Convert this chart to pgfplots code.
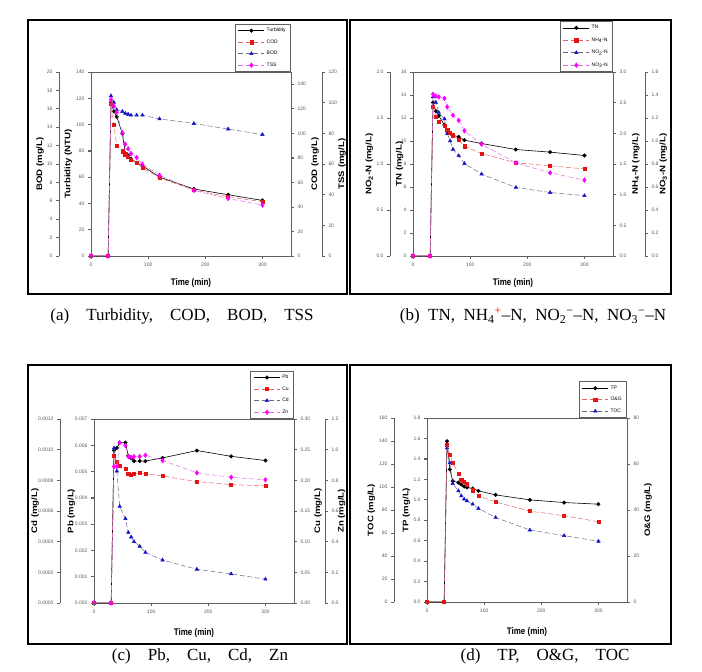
\documentclass[border=0pt]{standalone}
\usepackage{pgfplots}
\pgfplotsset{compat=1.18}
\usepackage{fontspec}
\setmainfont{Liberation Serif}
\setsansfont{Liberation Sans}
\newcommand\tickfont{\sffamily\fontsize{5}{6}\selectfont}
\newcommand\labfont{\sffamily\bfseries\fontsize{8}{9}\selectfont}
\newcommand\legfont{\sffamily\fontsize{5}{6}\selectfont}
\newcommand\capfont{\fontsize{17}{20}\selectfont}
\newcommand\capsp{\hspace{1em}}
\definecolor{lineRed}{RGB}{230,100,100}
\definecolor{markRed}{RGB}{228,20,20}
\definecolor{lineBlue}{RGB}{105,105,140}
\definecolor{markBlue}{RGB}{20,20,200}
\definecolor{lineMag}{RGB}{225,110,225}
\definecolor{markMag}{RGB}{255,0,255}
\definecolor{axgray}{RGB}{95,95,95}
% axis decorations: #1 x, #2 y0, #3 step, #4 n intervals, #5 direction (+1/-1)
\newcommand\myvticks[5]{\foreach \i in {0,...,#4}{\draw[axgray, line width=0.8pt] (#1pt,{#2pt+\i*#3pt}) -- ++({#5*3pt},0pt);}}
\newcommand\myaxline[3]{\draw[axgray, line width=0.8pt] (#1pt,#2pt) -- (#1pt,{#2pt+#3pt});}
\newcommand\myhticks[2]{\foreach \i in {0,...,3}{\draw[axgray, line width=0.8pt] ({#1pt+\i*57.143pt},#2pt) -- ++(0pt,-3pt);}}
\pgfplotsset{
 panel/.style={scale only axis, width=200pt, height=184pt, xmin=0, xmax=350, ymin=0,
   clip=false, scaled ticks=false, /pgf/number format/assume math mode=true,
   axis line style={draw=axgray, line width=0.7pt},
   tick style={draw=axgray, line width=0.7pt}, major tick length=3pt,
   ticklabel style={font=\tickfont, text=black!65},
   every axis y label/.style={rotate=90, anchor=center, font=\labfont, xscale=1.2},
   every axis x label/.style={anchor=center, font=\labfont, yscale=1.2},
   legend cell align=left,
   legend image code/.code={\draw[##1] (0pt,0pt) -- (26pt,0pt); \draw[##1] plot coordinates {(13pt,0pt)};},
   legend style={at={(1,1)}, anchor=south east, draw=axgray, line width=0.6pt, fill=white,
     font=\legfont, inner xsep=3pt, inner ysep=2pt, row sep=2.5pt}},
 mainax/.style={panel, xtick={0,100,200,300}, xtick pos=bottom, ytick pos=left, tick align=outside,
   xlabel={Time (min)}},
 outL/.style={panel, width=1pt, xmin=0, xmax=1, axis x line=none, xtick=\empty,
   axis y line*=left, tick align=outside, y axis line style={-}},
 outR/.style={panel, width=1pt, xmin=0, xmax=1, axis x line=none, xtick=\empty,
   axis y line*=right, tick align=outside, y axis line style={-}},
 rightin/.style={panel, axis x line=none, xtick=\empty, axis y line*=right, tick align=outside, y axis line style={-}},
 dat/.style={panel, hide axis},
 ser1/.style={black, solid, line width=0.6pt, mark=*, mark size=1.7pt, mark options={solid, fill=black}},
 ser2/.style={lineRed, dash pattern=on 5pt off 2.5pt, line width=0.5pt, mark=square*, mark size=1.6pt, mark options={solid, draw=markRed, fill=markRed}},
 ser3/.style={lineBlue, dash pattern=on 5pt off 2.5pt, line width=0.5pt, mark=triangle*, mark size=2pt, mark options={solid, draw=markBlue, fill=markBlue}},
 ser4/.style={lineMag, dash pattern=on 5pt off 2.5pt, line width=0.5pt, mark=diamond*, mark size=2.3pt, mark options={solid, draw=markMag, fill=markMag}},
 fmt/.style={yticklabel style={/pgf/number format/.cd, fixed, fixed zerofill, precision=#1}},
}
\begin{document}
\begin{tikzpicture}
\useasboundingbox (0pt,0pt) rectangle (702pt,672pt);
% panel frames
\draw[black, line width=1.1pt] (28pt,378pt) rectangle (347pt,652pt);
\draw[black, line width=1.1pt] (350pt,378pt) rectangle (671pt,652pt);
\draw[black, line width=1.1pt] (28pt,28pt) rectangle (347pt,307pt);
\draw[black, line width=1.1pt] (350pt,28pt) rectangle (671pt,307pt);

%%%%%%%%%%%%%%%% Panel (a)
\begin{axis}[mainax, at={(91pt,416pt)}, ymax=140, ytick={0,20,...,140},
  ylabel={Turbidity (NTU)}, ylabel style={at={(axis description cs:-0.114,0.5)}},
  xlabel style={at={(axis description cs:0.5,-0.147)}}]
\addplot[ser1] coordinates {(0,0)(30,0)(35,117)(40,110)(45,106)(55,93)(60,78)(65,76.5)(70,74)(80,71)(90,68.6)(120,60)(180,51)(240,46.6)(300,42.3)};
\addlegendentry{Turbidity}
\addlegendimage{ser2}\addlegendentry{COD}
\addlegendimage{ser3}\addlegendentry{BOD}
\addlegendimage{ser4}\addlegendentry{TSS}
\end{axis}
\begin{axis}[outL, at={(59pt,416pt)}, ymax=20, ytick={0,2,...,20},
  ylabel={BOD (mg/L)}, ylabel style={at={(axis description cs:-19,0.5)}}]
\end{axis}
\begin{axis}[dat, at={(91pt,416pt)}, ymax=20]
\addplot[ser3] coordinates {(0,0)(30,0)(35,17.4)(40,16.7)(45,15.9)(55,15.7)(60,15.5)(65,15.4)(70,15.3)(80,15.3)(90,15.3)(120,14.9)(180,14.4)(240,13.8)(300,13.2)};
\end{axis}
\begin{axis}[rightin, at={(91pt,416pt)}, ymax=150, ytick={0,20,...,140},
  ylabel={COD (mg/L)}, ylabel style={at={(axis description cs:1.12,0.5)}}]
\addplot[ser2] coordinates {(0,0)(30,0)(35,124)(40,107)(45,90)(55,85.4)(60,83)(65,80.8)(70,78.7)(80,76)(90,72)(120,63.7)(180,53.7)(240,48.3)(300,44.2)};
\end{axis}
\begin{axis}[outR, at={(321pt,416pt)}, ymax=120, ytick={0,20,...,120},
  ylabel={TSS (mg/L)}, ylabel style={at={(axis description cs:21,0.5)}}]
\end{axis}
\begin{axis}[dat, at={(91pt,416pt)}, ymax=120]
\addplot[ser4] coordinates {(0,0)(30,0)(35,102)(40,97.7)(45,93.7)(55,80.3)(60,72.9)(65,69.9)(70,66.8)(80,64.2)(90,59.9)(120,52.7)(180,42.8)(240,37.5)(300,33.2)};
\end{axis}

%%%%%%%%%%%%%%%% Panel (b)
\begin{axis}[mainax, at={(413pt,416pt)}, ymax=16, ytick={0,2,...,16},
  ylabel={TN (mg/L)}, ylabel style={at={(axis description cs:-0.067,0.5)}},
  xlabel style={at={(axis description cs:0.5,-0.147)}}, legend style={row sep=3.5pt}]
\addplot[ser1] coordinates {(0,0)(30,0)(35,13.34)(40,12.6)(45,12.2)(55,11.4)(60,10.8)(65,10.65)(70,10.5)(80,10.36)(90,10.07)(120,9.78)(180,9.26)(240,9.03)(300,8.74)};
\addlegendentry{TN}
\addlegendimage{ser2}\addlegendentry{NH\textsubscript{4}-N}
\addlegendimage{ser3}\addlegendentry{NO\textsubscript{2}-N}
\addlegendimage{ser4}\addlegendentry{NO\textsubscript{3}-N}
\end{axis}
\begin{axis}[outL, at={(390pt,416pt)}, ymax=2, ytick={0,0.5,1,1.5,2}, fmt=1,
  ylabel={NO\textsubscript{2}-N (mg/L)}, ylabel style={at={(axis description cs:-20.7,0.5)}}]
\end{axis}
\begin{axis}[dat, at={(413pt,416pt)}, ymax=2]
\addplot[ser3] coordinates {(0,0)(30,0)(35,1.73)(40,1.67)(45,1.56)(55,1.49)(60,1.33)(65,1.25)(70,1.16)(80,1.09)(90,1.005)(120,0.89)(180,0.745)(240,0.69)(300,0.655)};
\end{axis}
\begin{axis}[rightin, at={(413pt,416pt)}, ymax=3, ytick={0,0.5,1,1.5,2,2.5,3}, fmt=1,
  ylabel={NH\textsubscript{4}-N (mg/L)}, ylabel style={at={(axis description cs:1.114,0.5)}}]
\addplot[ser2] coordinates {(0,0)(30,0)(35,2.43)(40,2.27)(45,2.19)(55,2.13)(60,2.06)(65,2.01)(70,1.97)(80,1.89)(90,1.79)(120,1.67)(180,1.52)(240,1.47)(300,1.42)};
\end{axis}
\begin{axis}[outR, at={(644pt,416pt)}, ymax=1.6, ytick={0,0.2,0.4,0.6,0.8,1,1.2,1.4,1.6}, fmt=1,
  ylabel={NO\textsubscript{3}-N (mg/L)}, ylabel style={at={(axis description cs:19.3,0.5)}}]
\end{axis}
\begin{axis}[dat, at={(413pt,416pt)}, ymax=1.6]
\addplot[ser4] coordinates {(0,0)(30,0)(35,1.406)(40,1.39)(45,1.383)(55,1.37)(60,1.296)(70,1.224)(80,1.18)(90,1.088)(120,0.972)(180,0.81)(240,0.723)(300,0.66)};
\end{axis}

%%%%%%%%%%%%%%%% Panel (c)
\begin{axis}[mainax, at={(94pt,69pt)}, ymax=0.007, ytick={0,0.001,0.002,0.003,0.004,0.005,0.006,0.007}, fmt=3,
  ylabel={Pb (mg/L)}, ylabel style={at={(axis description cs:-0.113,0.5)}},
  xlabel style={at={(axis description cs:0.5,-0.165)}}]
\addplot[ser1] coordinates {(0,0)(30,0)(35,0.0058)(40,0.0059)(45,0.0061)(55,0.0061)(60,0.0056)(65,0.0055)(70,0.0054)(80,0.0054)(90,0.0054)(120,0.00552)(180,0.0058)(240,0.00558)(300,0.00542)};
\addlegendentry{Pb}
\addlegendimage{ser2}\addlegendentry{Cu}
\addlegendimage{ser3}\addlegendentry{Cd}
\addlegendimage{ser4}\addlegendentry{Zn}
\end{axis}
\begin{axis}[outL, at={(60pt,69pt)}, ymax=0.0012, ytick={0,0.0002,0.0004,0.0006,0.0008,0.0010,0.0012}, fmt=4,
  ylabel={Cd (mg/L)}, ylabel style={at={(axis description cs:-25,0.5)}}]
\end{axis}
\begin{axis}[dat, at={(94pt,69pt)}, ymax=0.0012]
\addplot[ser3] coordinates {(0,0)(30,0)(35,0.00101)(40,0.00086)(45,0.00063)(55,0.00055)(60,0.00046)(65,0.00043)(70,0.0004)(80,0.00037)(90,0.00033)(120,0.00028)(180,0.00022)(240,0.00019)(300,0.000155)};
\end{axis}
\begin{axis}[rightin, at={(94pt,69pt)}, ymax=0.3, ytick={0,0.05,0.1,0.15,0.2,0.25,0.3}, fmt=2,
  ylabel={Cu (mg/L)}, ylabel style={at={(axis description cs:1.12,0.5)}}]
\addplot[ser2] coordinates {(0,0)(30,0)(35,0.240)(40,0.230)(45,0.224)(55,0.219)(60,0.211)(65,0.209)(70,0.211)(80,0.212)(90,0.211)(120,0.207)(180,0.198)(240,0.193)(300,0.191)};
\end{axis}
\begin{axis}[outR, at={(324pt,69pt)}, ymax=1.2, ytick={0,0.2,0.4,0.6,0.8,1,1.2}, fmt=1,
  ylabel={Zn (mg/L)}, ylabel style={at={(axis description cs:17.7,0.5)}}]
\end{axis}
\begin{axis}[dat, at={(94pt,69pt)}, ymax=1.2]
\addplot[ser4] coordinates {(0,0)(30,0)(35,0.89)(40,0.89)(45,1.045)(55,1.026)(60,0.955)(65,0.95)(70,0.955)(80,0.955)(90,0.964)(120,0.929)(180,0.849)(240,0.82)(300,0.803)};
\end{axis}

%%%%%%%%%%%%%%%% Panel (d)
\begin{axis}[mainax, at={(427pt,70pt)}, ymax=1.8, ytick={0,0.2,0.4,0.6,0.8,1,1.2,1.4,1.6,1.8}, fmt=1,
  ylabel={TP (mg/L)}, ylabel style={at={(axis description cs:-0.103,0.5)}},
  xlabel style={at={(axis description cs:0.5,-0.165)}}]
\addplot[ser1] coordinates {(0,0)(30,0)(35,1.573)(40,1.297)(45,1.184)(55,1.168)(60,1.15)(65,1.13)(70,1.12)(80,1.11)(90,1.087)(120,1.048)(180,0.999)(240,0.973)(300,0.957)};
\addlegendentry{TP}
\addlegendimage{ser2}\addlegendentry{O\&G}
\addlegendimage{ser3}\addlegendentry{TOC}
\end{axis}
\begin{axis}[outL, at={(394pt,70pt)}, ymax=160, ytick={0,20,...,160},
  ylabel={TOC (mg/L)}, ylabel style={at={(axis description cs:-22.6,0.5)}}]
\end{axis}
\begin{axis}[dat, at={(427pt,70pt)}, ymax=160]
\addplot[ser3] coordinates {(0,0)(30,0)(35,134)(40,121)(45,103)(55,96.6)(60,92.2)(65,89.4)(70,87.9)(80,85)(90,81.3)(120,73.5)(180,62.6)(240,57.7)(300,52.8)};
\end{axis}
\begin{axis}[rightin, at={(427pt,70pt)}, ymax=80, ytick={0,20,...,80},
  ylabel={O\&G (mg/L)}, ylabel style={at={(axis description cs:1.105,0.5)}}]
\addplot[ser2] coordinates {(0,0)(30,0)(35,68.2)(40,64.1)(45,60.5)(55,55.8)(60,53.3)(65,52.3)(70,51.2)(80,48.6)(90,46.1)(120,43.5)(180,39.5)(240,37.5)(300,34.9)};
\end{axis}

% axis lines and tick marks of the offset axes (decoration only)
% panel a
\myaxline{59}{416}{184}\myvticks{59}{416}{18.4}{10}{-1}
\myvticks{91}{416}{26.286}{7}{-1}\myvticks{291}{416}{24.533}{7}{1}
\myaxline{322}{416}{184}\myvticks{322}{416}{30.667}{6}{1}
\myhticks{91}{416}
% panel b
\myaxline{390}{416}{184}\myvticks{390}{416}{46}{4}{-1}
\myvticks{413}{416}{23}{8}{-1}\myvticks{613}{416}{30.667}{6}{1}
\myaxline{645}{416}{184}\myvticks{645}{416}{23}{8}{1}
\myhticks{413}{416}
% panel c
\myaxline{60}{69}{184}\myvticks{60}{69}{30.667}{6}{-1}
\myvticks{94}{69}{26.286}{7}{-1}\myvticks{294}{69}{30.667}{6}{1}
\myaxline{325}{69}{184}\myvticks{325}{69}{30.667}{6}{1}
\myhticks{94}{69}
% panel d
\myaxline{394}{70}{184}\myvticks{394}{70}{23}{8}{-1}
\myvticks{427}{70}{20.444}{9}{-1}\myvticks{627}{70}{46}{4}{1}
\myhticks{427}{70}

% captions
\node[font=\capfont] at (182pt,356pt) {(a)\capsp Turbidity,\capsp COD,\capsp BOD,\capsp TSS};
\node[font=\capfont] at (533pt,356pt) {(b)\hspace{0.5em}TN,\hspace{0.5em}NH\textsubscript{4}\textsuperscript{\textcolor{red}{+}}–N,\hspace{0.5em}NO\textsubscript{2}\textsuperscript{−}–N,\hspace{0.5em}NO\textsubscript{3}\textsuperscript{−}–N};
\node[font=\capfont] at (200pt,16pt) {(c)\capsp Pb,\capsp Cu,\capsp Cd,\capsp Zn};
\node[font=\capfont] at (545pt,16pt) {(d)\capsp TP,\capsp O\&G,\capsp TOC};
\end{tikzpicture}
\end{document}
